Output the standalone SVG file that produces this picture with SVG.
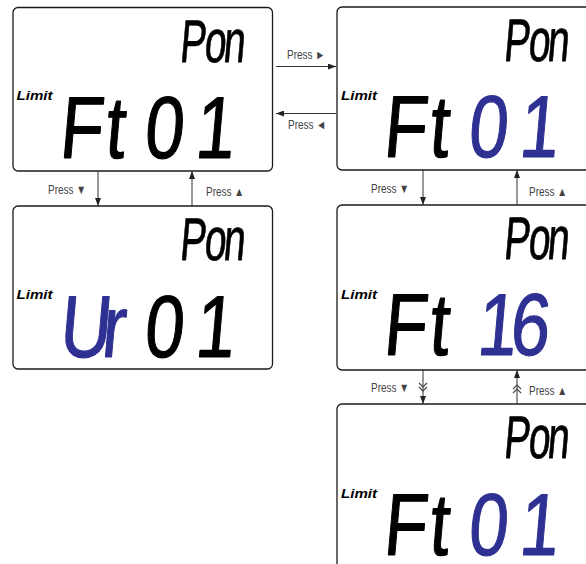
<svg xmlns="http://www.w3.org/2000/svg" width="586" height="564" viewBox="0 0 586 564">
<style>
.box{fill:#fff;stroke:#1a1a1a;stroke-width:1.3}
.lcd{font-family:"Liberation Sans",Arial,sans-serif;fill:#000;stroke:#000;stroke-width:1.2;stroke-linejoin:bevel}
.big{font-size:88px}
.pon{font-size:60px;stroke-width:0.8}
.blue{fill:#2e3192;stroke:#2e3192}
.limit{font-family:"Liberation Sans",Arial,sans-serif;font-size:12px;font-weight:bold;font-style:italic;fill:#000}
.lbl{font-family:"Liberation Sans Narrow","Liberation Sans",Arial,sans-serif;font-size:12.5px;fill:#444}
.conn{stroke:#333;stroke-width:1;fill:none}
.chev{stroke:#444;stroke-width:1.1;fill:none}
</style>
<defs>
<marker id="ah" markerUnits="userSpaceOnUse" markerWidth="8" markerHeight="6" refX="8" refY="3" orient="auto">
<path d="M0,0 L8,3 L0,6 z" fill="#222"/>
</marker>
</defs>
<rect width="586" height="564" fill="#fff"/>

<g id="node-ft01-a">
<rect class="box" x="13" y="7.5" width="259.5" height="163.5" rx="5"/>
<text class="lcd pon" transform="translate(179,62) skewX(-5) scale(0.65,1)"><tspan x="0">P</tspan><tspan x="37.7">o</tspan><tspan x="66.9">n</tspan></text>
<text class="limit" x="16.5" y="100" textLength="36" lengthAdjust="spacingAndGlyphs">Limit</text>
<text class="lcd big" transform="translate(58.4,158) skewX(-5) scale(0.8,1)"><tspan x="0">F</tspan><tspan x="57">t</tspan><tspan x="105.75">0</tspan><tspan x="169.5">1</tspan></text>
</g>

<g id="node-ft01-b">
<rect class="box" x="337" y="7" width="262" height="163" rx="5"/>
<text class="lcd pon" transform="translate(503,61) skewX(-5) scale(0.65,1)"><tspan x="0">P</tspan><tspan x="37.7">o</tspan><tspan x="66.9">n</tspan></text>
<text class="limit" x="341" y="99.5" textLength="36" lengthAdjust="spacingAndGlyphs">Limit</text>
<text class="lcd big" transform="translate(382.4,157) skewX(-5) scale(0.8,1)"><tspan x="0">F</tspan><tspan x="57">t</tspan><tspan class="blue" x="105.75">0</tspan><tspan class="blue" x="169.5">1</tspan></text>
</g>

<g id="node-ur01">
<rect class="box" x="13" y="206" width="259.5" height="163" rx="5"/>
<text class="lcd pon" transform="translate(179,260) skewX(-5) scale(0.65,1)"><tspan x="0">P</tspan><tspan x="37.7">o</tspan><tspan x="66.9">n</tspan></text>
<text class="limit" x="16.5" y="299" textLength="36" lengthAdjust="spacingAndGlyphs">Limit</text>
<text class="lcd big" transform="translate(58.4,357) skewX(-5) scale(0.8,1)"><tspan class="blue" x="0">U</tspan><tspan class="blue" x="52.5">r</tspan><tspan x="105.75">0</tspan><tspan x="169.5">1</tspan></text>
</g>

<g id="node-ft16">
<rect class="box" x="337" y="205" width="262" height="165" rx="5"/>
<text class="lcd pon" transform="translate(503,259) skewX(-5) scale(0.65,1)"><tspan x="0">P</tspan><tspan x="37.7">o</tspan><tspan x="66.9">n</tspan></text>
<text class="limit" x="341" y="299" textLength="36" lengthAdjust="spacingAndGlyphs">Limit</text>
<text class="lcd big" transform="translate(382.4,355) skewX(-5) scale(0.8,1)"><tspan x="0">F</tspan><tspan x="57">t</tspan><tspan x="90"> </tspan><tspan class="blue" x="117">1</tspan><tspan class="blue" x="158">6</tspan></text>
</g>

<g id="node-ft01-c">
<rect class="box" x="337" y="404" width="262" height="175" rx="5"/>
<text class="lcd pon" transform="translate(503,458) skewX(-5) scale(0.65,1)"><tspan x="0">P</tspan><tspan x="37.7">o</tspan><tspan x="66.9">n</tspan></text>
<text class="limit" x="341" y="498" textLength="36" lengthAdjust="spacingAndGlyphs">Limit</text>
<text class="lcd big" transform="translate(382.4,555) skewX(-5) scale(0.8,1)"><tspan x="0">F</tspan><tspan x="57">t</tspan><tspan class="blue" x="105.75">0</tspan><tspan class="blue" x="169.5">1</tspan></text>
</g>

<g id="connectors">
<line class="conn" x1="276" y1="66.5" x2="336" y2="66.5" marker-end="url(#ah)"/>
<line class="conn" x1="336" y1="113.5" x2="276" y2="113.5" marker-end="url(#ah)"/>
<line class="conn" x1="98" y1="171" x2="98" y2="206" marker-end="url(#ah)"/>
<line class="conn" x1="192" y1="206" x2="192" y2="171" marker-end="url(#ah)"/>
<line class="conn" x1="423" y1="170" x2="423" y2="205" marker-end="url(#ah)"/>
<line class="conn" x1="517" y1="205" x2="517" y2="170" marker-end="url(#ah)"/>
<line class="conn" x1="423" y1="370" x2="423" y2="404" marker-end="url(#ah)"/>
<line class="conn" x1="517" y1="404" x2="517" y2="370" marker-end="url(#ah)"/>
<path class="chev" d="M419,383 L423,387 L427,383 M419,387 L423,391 L427,387"/>
<path class="chev" d="M513,389 L517,385 L521,389 M513,393 L517,389 L521,393"/>
<text class="lbl" x="287" y="59" textLength="38" lengthAdjust="spacingAndGlyphs">Press ►</text>
<text class="lbl" x="288" y="129" textLength="38" lengthAdjust="spacingAndGlyphs">Press ◄</text>
<text class="lbl" x="48" y="194" textLength="38" lengthAdjust="spacingAndGlyphs">Press ▼</text>
<text class="lbl" x="206" y="196" textLength="38" lengthAdjust="spacingAndGlyphs">Press ▲</text>
<text class="lbl" x="371" y="193" textLength="38" lengthAdjust="spacingAndGlyphs">Press ▼</text>
<text class="lbl" x="529" y="196" textLength="38" lengthAdjust="spacingAndGlyphs">Press ▲</text>
<text class="lbl" x="371" y="392" textLength="38" lengthAdjust="spacingAndGlyphs">Press ▼</text>
<text class="lbl" x="529" y="395" textLength="38" lengthAdjust="spacingAndGlyphs">Press ▲</text>
</g>
</svg>
